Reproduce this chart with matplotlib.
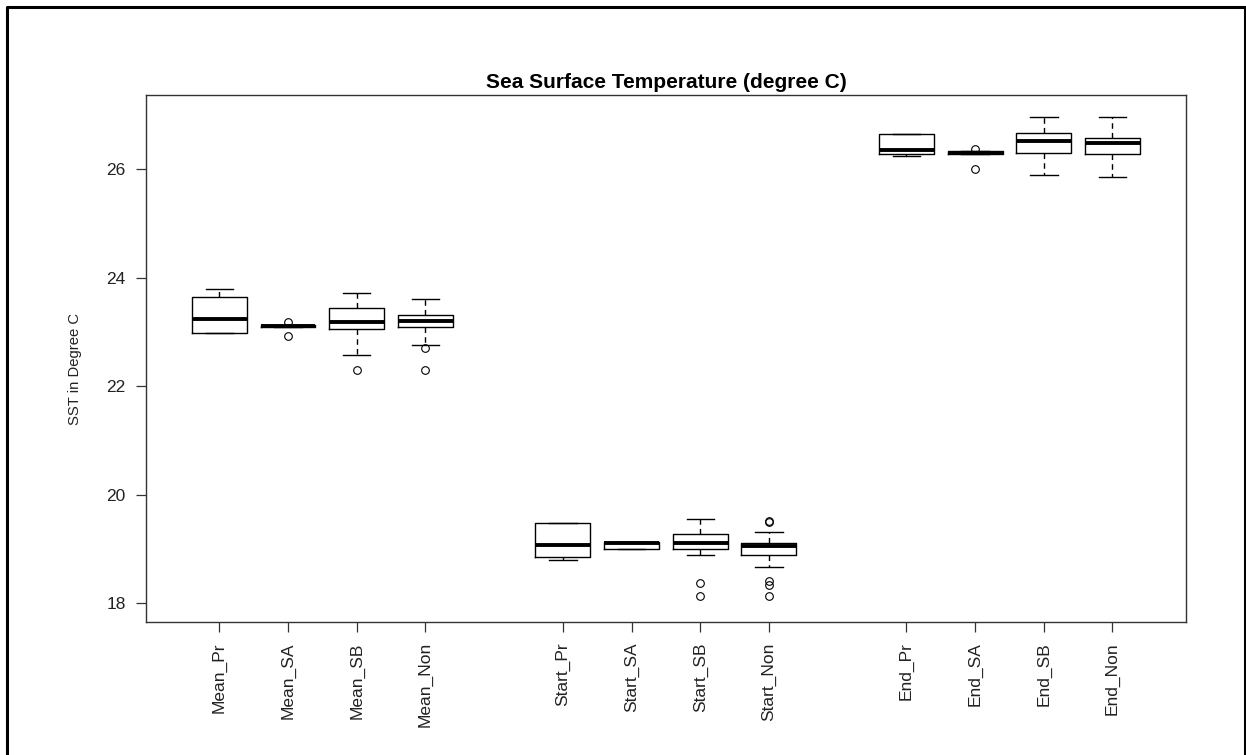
import matplotlib
matplotlib.use('Agg')
import matplotlib.pyplot as plt
from matplotlib.lines import Line2D

plt.rcParams['font.family'] = ['Liberation Sans', 'DejaVu Sans']

# ---- data ----
categories = ['Mean_Pr', 'Mean_SA', 'Mean_SB', 'Mean_Non',
              'Start_Pr', 'Start_SA', 'Start_SB', 'Start_Non',
              'End_Pr', 'End_SA', 'End_SB', 'End_Non']
whisker_low = [22.98, 23.10, 22.58, 22.76,
               18.80, 18.995, 18.89, 18.67,
               26.24, 26.28, 25.90, 25.86]
q1 = [22.98, 23.10, 23.055, 23.09,
      18.86, 19.00, 19.00, 18.89,
      26.28, 26.29, 26.295, 26.28]
median = [23.235, 23.115, 23.19, 23.20,
          19.075, 19.12, 19.12, 19.06,
          26.36, 26.31, 26.53, 26.48]
q3 = [23.65, 23.125, 23.45, 23.31,
      19.486, 19.135, 19.28, 19.12,
      26.66, 26.33, 26.675, 26.57]
whisker_high = [23.79, 23.125, 23.725, 23.61,
                19.486, 19.135, 19.555, 19.32,
                26.66, 26.33, 26.97, 26.97]
outliers = [[], [23.19, 22.93], [22.30], [22.70, 22.30],
            [], [], [18.37, 18.14], [19.52, 19.49, 18.41, 18.34, 18.14],
            [], [26.38, 26.00], [], []]
y_ticks = [18, 20, 22, 24, 26]
title = 'Sea Surface Temperature (degree C)'
y_label = 'SST in Degree C'

# ---- figure ----
W, H = 1246, 755
fig = plt.figure(figsize=(W / 100, H / 100), dpi=100)
ax = fig.add_axes([146 / W, 1 - 622 / H, (1186 - 146) / W, (622 - 95) / H])

n_groups, per_group = 3, 4
positions = [g * (per_group + 1) + i + 1 for g in range(n_groups) for i in range(per_group)]

stats = []
for i, c in enumerate(categories):
    stats.append(dict(label=c, whislo=whisker_low[i], q1=q1[i], med=median[i],
                      q3=q3[i], whishi=whisker_high[i], fliers=outliers[i]))

ax.bxp(stats, positions=positions, widths=0.8, capwidths=0.4, showfliers=True,
       boxprops=dict(color='black', lw=1.0),
       medianprops=dict(color='black', lw=2.8, solid_capstyle='butt'),
       whiskerprops=dict(color='black', lw=1.0, linestyle=(0, (4, 3))),
       capprops=dict(color='black', lw=1.0),
       flierprops=dict(marker='o', markerfacecolor='none', markeredgecolor='black',
                       markersize=5.5, markeredgewidth=0.8))

ax.set_xlim(-0.067, 15.07)
ax.set_ylim(17.655, 27.37)
ax.set_xticks(positions)
ax.set_xticklabels(categories, rotation=90, fontsize=12.5, color='#222222')
ax.set_yticks(y_ticks)
ax.set_yticklabels([str(v) for v in y_ticks], fontsize=12.5, color='#222222')
ax.tick_params(axis='both', length=7.5, width=0.9, pad=7, color='#333333')
for sp in ax.spines.values():
    sp.set_linewidth(1.0)
    sp.set_color('#333333')

ax.set_title(title, fontsize=15, fontweight='bold', pad=5)
fig.text(75 / W, 1 - 369 / H, y_label, rotation=90, ha='center', va='center',
         fontsize=10.7, color='#222222')

# outer frame (as in the reference screenshot)
fig.add_artist(Line2D([7 / W, 7 / W, 1244.5 / W, 1244.5 / W],
                      [-0.01, 1 - 7 / H, 1 - 7 / H, -0.01],
                      transform=fig.transFigure, color='black', lw=2.2))

fig.savefig('out.png', dpi=100)
